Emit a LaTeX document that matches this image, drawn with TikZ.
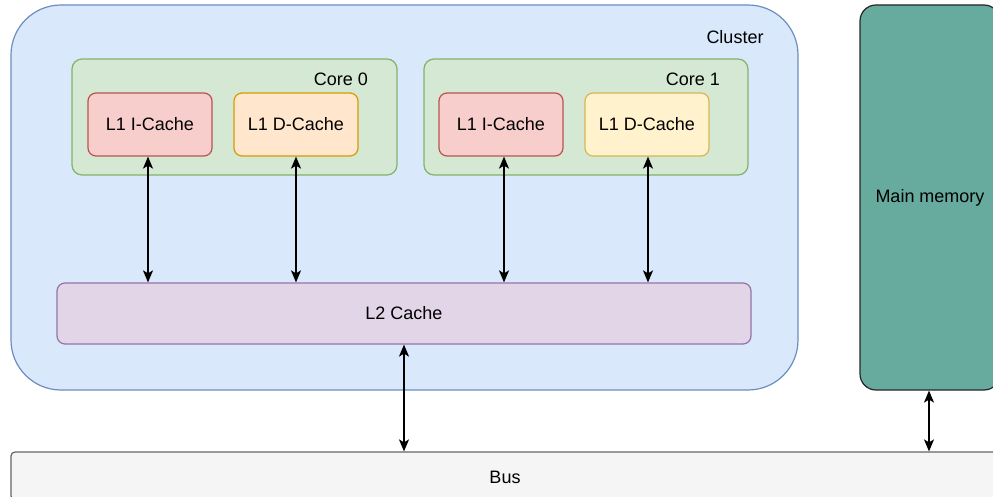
\documentclass[tikz,border=0pt]{standalone}
\usepackage{fontspec}
\setmainfont{Liberation Sans}
\usetikzlibrary{arrows.meta}
\definecolor{bluefill}{HTML}{DAE8FC}\definecolor{blueline}{HTML}{6C8EBF}
\definecolor{greenfill}{HTML}{D5E8D4}\definecolor{greenline}{HTML}{82B366}
\definecolor{redfill}{HTML}{F8CECC}\definecolor{redline}{HTML}{B85450}
\definecolor{orangefill}{HTML}{FFE6CC}\definecolor{orangeline}{HTML}{D79B00}
\definecolor{yellowfill}{HTML}{FFF2CC}\definecolor{yellowline}{HTML}{D6B656}
\definecolor{purplefill}{HTML}{E1D5E7}\definecolor{purpleline}{HTML}{9673A6}
\definecolor{grayfill}{HTML}{F5F5F5}\definecolor{grayline}{HTML}{666666}
\definecolor{memfill}{HTML}{67AB9F}
\tikzset{
  box/.style={draw, line width=1.2pt, inner sep=0pt},
  cache/.style={box, rounded corners=8pt, minimum width=124pt, minimum height=63pt},
  link/.style={{Stealth[length=12pt,width=10pt,inset=3pt]}-{Stealth[length=12pt,width=10pt,inset=3pt]}, line width=1.6pt}
}
\begin{document}
\begin{tikzpicture}[x=1pt, y=-1pt, font=\fontsize{18}{21}\selectfont]
      \useasboundingbox (0,0) rectangle (993,497);
      \node[box, fill=bluefill, draw=blueline, rounded corners=50pt,
        minimum width=787pt, minimum height=385pt] (cluster) at (404.5,197.5) {};
      \node (clusterlbl) at (735,37) {Cluster};
      \node[box, fill=greenfill, draw=greenline, rounded corners=10pt,
        minimum width=325pt, minimum height=116pt] (core0) at (234.5,117) {};
      \node[box, fill=greenfill, draw=greenline, rounded corners=10pt,
        minimum width=324pt, minimum height=116pt] (core1) at (586,117) {};
      \node (core0lbl) at (341,79) {Core 0};
      \node (core1lbl) at (693,79) {Core 1};
      \node[cache, fill=redfill, draw=redline] (icache0) at (150,124.5) {\raisebox{-2pt}{L1 I-Cache}};
      \node[cache, fill=orangefill, draw=orangeline] (dcache0) at (296,124.5) {\raisebox{-2pt}{L1 D-Cache}};
      \node[cache, fill=redfill, draw=redline] (icache1) at (501,124.5) {\raisebox{-2pt}{L1 I-Cache}};
      \node[cache, fill=yellowfill, draw=yellowline] (dcache1) at (647,124.5) {\raisebox{-2pt}{L1 D-Cache}};
      \node[box, fill=purplefill, draw=purpleline, rounded corners=8pt,
        minimum width=694pt, minimum height=61pt] (ltwo) at (404,313.5) {\raisebox{-1pt}{L2 Cache}};
      \node[box, fill=memfill, draw=black!85, rounded corners=16pt,
        minimum width=140pt, minimum height=385pt] (mem) at (930,197.5) {\raisebox{-2pt}{Main memory}};
      \node[box, fill=grayfill, draw=grayline, rounded corners=4pt,
        minimum width=1000pt, minimum height=48pt] (bus) at (511,476) {};
      \node (buslbl) at (505,477) {Bus};
      \begin{scope}[link]
        \draw (icache0.south -| 148,0) -- (148,0 |- ltwo.north);
        \draw (dcache0.south) -- (dcache0.south |- ltwo.north);
        \draw (icache1.south -| 504,0) -- (504,0 |- ltwo.north);
        \draw (dcache1.south -| 648,0) -- (648,0 |- ltwo.north);
        \draw (ltwo.south) -- (ltwo.south |- bus.north);
        \draw (mem.south -| 929,0) -- (929,0 |- bus.north);
      \end{scope}
    \end{tikzpicture}
\end{document}
